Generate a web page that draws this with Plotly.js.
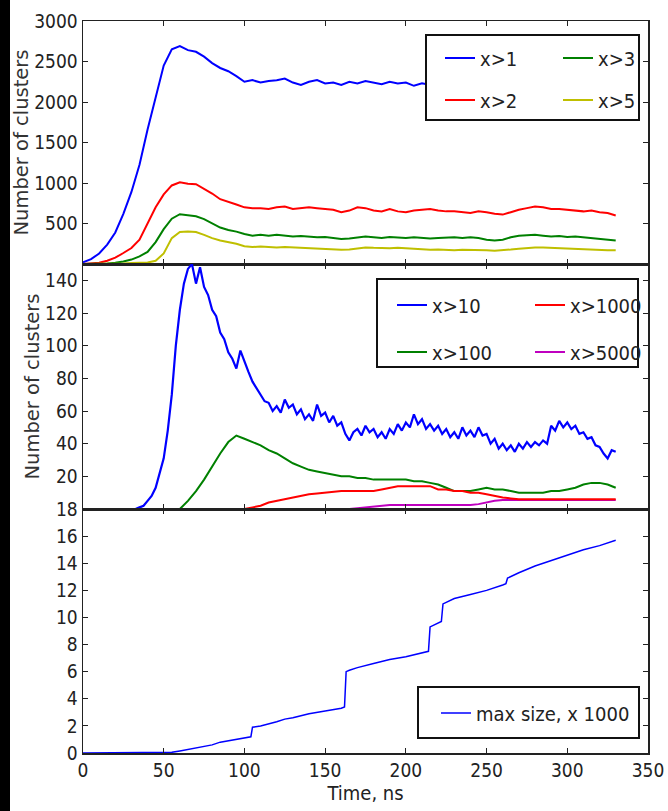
<!DOCTYPE html>
<html>
<head>
<meta charset="utf-8">
<script src="https://cdn.plot.ly/plotly-3.0.1.min.js"></script>
<style>
html,body{margin:0;padding:0;background:#fff;}
#wrap{position:relative;width:668px;height:811px;}
#chart{width:668px;height:811px;}
#strip{position:absolute;left:0;top:0;width:10px;height:811px;background:#000;z-index:10;}
</style>
</head>
<body>
<div id="wrap"><div id="chart"></div><div id="strip"></div></div>
<script>
// ---------- DATA ----------
const timeNs = [0,5,10,15,20,25,30,35,40,45,50,55,60,65,70,75,80,85,90,95,100,105,110,115,120,125,130,135,140,145,150,155,160,165,170,175,180,185,190,195,200,205,210,215,220,225,230,235,240,245,250,255,260,265,270,275,280,285,290,295,300,305,310,315,320,325,330];

// top panel: number of clusters of size x
const clustersGt1 = [20,60,130,240,390,620,890,1225,1660,2060,2450,2650,2690,2640,2620,2560,2480,2420,2380,2320,2250,2270,2240,2260,2270,2290,2240,2210,2250,2270,2230,2240,2210,2250,2230,2260,2240,2220,2250,2230,2240,2200,2230,2210,2240,2220,2230,2200,2220,2240,2210,2190,2200,2230,2260,2270,2250,2240,2230,2250,2220,2230,2210,2200,2190,2180,2170];
const clustersGt2 = [0,5,15,40,78,136,198,300,500,700,860,970,1010,990,985,930,870,800,770,735,700,690,690,680,700,710,680,690,700,690,680,670,640,660,700,690,660,650,680,650,640,660,670,680,660,650,650,640,630,650,640,620,610,640,670,690,710,700,680,680,670,660,650,660,640,630,600];
const clustersGt3 = [0,0,3,8,15,30,55,95,150,270,430,560,615,600,590,555,500,450,420,400,370,350,360,350,360,350,340,345,340,330,335,320,310,315,330,340,330,320,335,330,320,330,325,315,320,325,330,320,330,320,300,290,300,330,350,355,360,350,340,345,335,340,330,320,310,300,290];
const clustersGt5 = [0,0,0,2,4,8,12,15,20,40,130,320,395,400,395,360,320,290,270,250,220,210,215,210,205,210,205,200,195,195,190,185,175,180,195,205,200,195,195,200,195,185,180,175,180,175,170,175,175,170,170,165,170,180,190,200,205,205,200,195,195,190,185,180,175,170,170];

// middle panel (x>10 read at a finer time step)
const timeFine = [0,30,32.5,35,37.5,40,42.5,45,47.5,50,52.5,55,57.5,60,62.5,65,67.5,70,72.5,75,77.5,80,82.5,85,87.5,90,92.5,95,97.5,100,102.5,105,107.5,110,112.5,115,117.5,120,122.5,125,127.5,130,132.5,135,137.5,140,142.5,145,147.5,150,152.5,155,157.5,160,162.5,165,167.5,170,172.5,175,177.5,180,182.5,185,187.5,190,192.5,195,197.5,200,202.5,205,207.5,210,212.5,215,217.5,220,222.5,225,227.5,230,232.5,235,237.5,240,242.5,245,247.5,250,252.5,255,257.5,260,262.5,265,267.5,270,272.5,275,277.5,280,282.5,285,287.5,290,292.5,295,297.5,300,302.5,305,307.5,310,312.5,315,317.5,320,322.5,325,327.5,330];
const clustersGt10 = [0,0,0,1,2,5,8,13,22,31,48,70,100,122,138,147,150,138,148,136,131,122,118,108,104,96,92,86,97,90,84,78,74,70,66,65,60,63,59,67,62,64,58,61,55,58,54,64,57,59,53,57,51,53,46,42,47,49,45,51,47,49,44,47,43,49,46,52,48,53,50,58,52,55,49,52,48,51,46,49,44,47,43,50,45,48,44,50,45,46,40,43,37,40,36,39,35,40,37,41,38,41,39,42,40,51,48,54,50,53,49,51,46,47,43,44,39,38,34,31,36,35];
const clustersGt100 = [0,0,0,0,0,0,0,0,0,0,0,0,0,5,11,18,26,34,41,45,43,41,39,36,34,31,28,26,24,23,22,21,20,20,19,19,18,18,18,18,18,17,17,16,15,13,11,11,11,12,13,12,12,11,10,10,10,10,11,11,12,13,15,16,16,15,13];
const clustersGt1000 = [0,0,0,0,0,0,0,0,0,0,0,0,0,0,0,0,0,0,0,0,0,1,2,4,5,6,7,8,9,9.5,10,10.5,11,11,11,11,11,12,13,14,14,14,14,14,12,12,11,11,10,10,9,8,7,6.5,6,6,6,6,6,6,6,6,6,6,6,6,6];
const clustersGt5000 = [0,0,0,0,0,0,0,0,0,0,0,0,0,0,0,0,0,0,0,0,0,0,0,0,0,0,0,0,0,0,0,0,0,0,0.5,1,1.5,2,2.5,2.5,2.5,2.5,2.5,2.5,2.5,2.5,2.5,2.5,2.5,3,4,5,5.5,5.5,5.5,5.5,5.5,5.5,5.5,5.5,5.5,5.5,5.5,5.5,5.5,5.5,5.5];

// bottom panel: max cluster size (x 1000)
const maxTime = [0,50,55,60,70,80,85,90,95,100,104,105,110,120,125,130,140,150,160,162,163,165,170,180,190,200,210,214,215,220,222,223,230,240,250,260,262,263,270,280,290,300,310,320,330];
const maxSize = [0,0,0.05,0.15,0.35,0.6,0.8,0.9,1.0,1.1,1.2,1.9,2.0,2.3,2.5,2.6,2.9,3.1,3.3,3.4,6.0,6.1,6.3,6.6,6.9,7.1,7.4,7.5,9.3,9.6,9.7,11.0,11.4,11.7,12.0,12.4,12.5,12.9,13.3,13.8,14.2,14.6,15.0,15.3,15.7];

const topNames = ['x>1','x>2','x>3','x>5'];
const midNames = ['x>10','x>100','x>1000','x>5000'];
const bottomName = 'max size, x 1000';
const xTickVals = [0,50,100,150,200,250,300,350];
const yTopTicks = [500,1000,1500,2000,2500,3000];
const yMidTicks = [20,40,60,80,100,120,140];
const yBotTicks = [0,2,4,6,8,10,12,14,16,18];
const yTitle = 'Number of clusters';
const xTitle = 'Time, ns';

// ---------- STYLE ----------
const C = {b:'#0000ff', r:'#ff0000', g:'#008000', y:'#bfbf00', m:'#bf00bf'};
const tickFont = {family:'"Liberation Sans Narrow","DejaVu Sans Condensed","DejaVu Sans",sans-serif', size:19, color:'#222'};
const legFont = {family:'"Liberation Sans Narrow","DejaVu Sans Condensed","DejaVu Sans",sans-serif', size:20, color:'#222'};
const titleFont = {family:'"DejaVu Sans",sans-serif', size:19.5, color:'#333'};

function tr(x, y, name, color, xa, ya, leg, width){
  return {x:x, y:y, name:name, type:'scatter', mode:'lines', xaxis:xa, yaxis:ya,
    legend:leg, legendgroup:name, line:{color:color, width:width||2}};
}

const data = [
  tr(timeNs, clustersGt1, topNames[0], C.b, 'x', 'y', 'legend'),
  tr(timeNs, clustersGt2, topNames[1], C.r, 'x', 'y', 'legend'),
  tr(timeNs, clustersGt3, topNames[2], C.g, 'x', 'y', 'legend2'),
  tr(timeNs, clustersGt5, topNames[3], C.y, 'x', 'y', 'legend2'),
  tr(timeFine, clustersGt10, midNames[0], C.b, 'x2', 'y2', 'legend3', 2.2),
  tr(timeNs, clustersGt100, midNames[1], C.g, 'x2', 'y2', 'legend3'),
  tr(timeNs, clustersGt5000, midNames[3], C.m, 'x2', 'y2', 'legend4'),
  tr(timeNs, clustersGt1000, midNames[2], C.r, 'x2', 'y2', 'legend4'),
  tr(maxTime, maxSize, bottomName, C.b, 'x3', 'y3', 'legend5', 1.5)
];
data[6].legendrank = 2; data[7].legendrank = 1;

function xa(anchor, labels){
  return {domain:[0,1], anchor:anchor, range:[0,350], tickvals:xTickVals, ticks:'inside', ticklen:5,
    tickcolor:'#222', showline:true, linecolor:'#222', linewidth:1.5, mirror:'ticks', showgrid:false, zeroline:false,
    showticklabels:labels, tickfont:tickFont};
}
function ya(dom, anchor, range, tv){
  return {domain:dom, anchor:anchor, range:range, tickvals:tv, ticks:'inside', ticklen:5, tickcolor:'#222',
    showline:true, linecolor:'#222', linewidth:1.5, mirror:'ticks', showgrid:false, zeroline:false, tickfont:tickFont};
}

const px = v => (v - 83) / 565;
const py = v => (753 - v) / 732;

function legendAt(xpx, ypx, gap){
  return {x:px(xpx), y:py(ypx), xanchor:'left', yanchor:'top', bgcolor:'rgba(0,0,0,0)', borderwidth:0,
    font:legFont, traceorder:'grouped', tracegroupgap:gap, itemwidth:30};
}
function box(x0,y0,x1,y1){
  return {type:'rect', xref:'paper', yref:'paper', x0:px(x0), x1:px(x1), y0:py(y1), y1:py(y0),
    line:{color:'#111', width:2}, fillcolor:'#fff', layer:'above'};
}

const layout = {
  width:668, height:811,
  margin:{l:83, r:20, t:21, b:58},
  paper_bgcolor:'#fff', plot_bgcolor:'#fff',
  showlegend:true,
  xaxis: xa('y',false),
  xaxis2: xa('y2',false),
  xaxis3: Object.assign(xa('y3',true), {title:{text:xTitle, font:{family:tickFont.family, size:20, color:'#222'}, standoff:4}}),
  yaxis: Object.assign(ya([0.668,1],'x',[0,3000],yTopTicks), {title:{text:yTitle, font:titleFont, standoff:0}}),
  yaxis2: Object.assign(ya([0.3333,0.668],'x2',[0,150],yMidTicks), {title:{text:yTitle, font:titleFont, standoff:0}}),
  yaxis3: ya([0,0.3333],'x3',[0,18],yBotTicks),
  legend: legendAt(440, 38.5, 13),
  legend2: legendAt(558, 38.5, 13),
  legend3: legendAt(392, 285.5, 18),
  legend4: legendAt(530, 285.5, 18),
  legend5: legendAt(436, 693.5, 10),
  shapes:[
    box(426,35,639,120),
    box(377,279,638,367),
    box(418,687,639,738)
  ]
};

Plotly.newPlot('chart', data, layout, {staticPlot:true, displayModeBar:false});
</script>
</body>
</html>
